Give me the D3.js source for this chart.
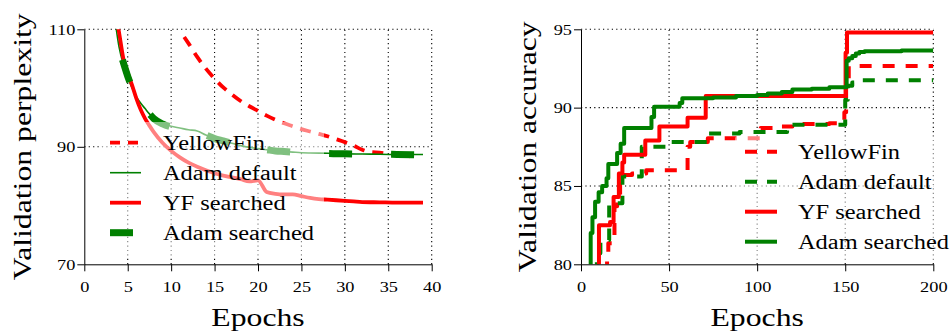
<!DOCTYPE html>
<html>
<head>
<meta charset="utf-8">
<script src="https://cdn.jsdelivr.net/npm/d3@7"></script>
<style>
  body { margin: 0; background: #fff; }
  svg { display: block; }
  text { font-family: 'Liberation Serif', 'DejaVu Serif', serif; fill: #000; }
</style>
</head>
<body>
<svg id="chart" width="950" height="333"></svg>
<script>
// ---- left panel: validation perplexity ----
const pplTicksX = [0, 5, 10, 15, 20, 25, 30, 35, 40];
const pplTicksY = [70, 90, 110];

const pplYellowFinEpochs = [11.5, 12, 13, 14, 15, 16, 17, 18, 19, 20, 21, 22, 23, 24, 25, 26, 27, 28, 29, 30, 31, 32, 33, 34, 35, 36, 37, 37.5];
const pplYellowFinValues = [108.7, 107.6, 105.3, 103.3, 101.6, 100.1, 98.9, 97.8, 96.9, 96.1, 95.3, 94.6, 94.0, 93.5, 93.0, 92.6, 92.2, 91.8, 91.3, 90.8, 90.2, 89.5, 89.1, 89.0, 88.8, 88.6, 88.3, 88.2];

const pplAdamDefaultEpochs = [3.5, 4, 4.5, 5, 5.5, 6, 6.5, 7, 7.5, 8, 9, 10, 11, 12, 13, 14, 15, 16, 17, 18, 19, 20, 21, 22, 23, 24, 25, 26, 28, 30, 33, 36, 39];
const pplAdamDefaultValues = [112, 107, 104, 101.9, 100, 98.5, 97.4, 96.5, 95.6, 94.9, 94.0, 93.5, 93.2, 92.9, 92.7, 92.0, 91.5, 91.0, 90.6, 90.2, 89.9, 89.7, 89.5, 89.3, 89.2, 89.1, 89.0, 88.95, 88.9, 88.8, 88.75, 88.7, 88.7];

const pplYFSearchedEpochs = [3.7, 4, 4.5, 5, 5.5, 6, 6.5, 7, 7.5, 8, 9, 10, 11, 12, 13, 14, 15, 16, 17, 18, 19, 20, 21, 22, 23, 24, 25, 26, 27, 28, 29, 30, 31, 32, 34, 36, 39];
const pplYFSearchedValues = [112, 109.5, 105, 102.6, 100.5, 98.2, 96.3, 94.8, 93.6, 92.5, 90.7, 89.3, 88.2, 87.3, 86.6, 86.0, 85.5, 85.1, 84.8, 84.5, 84.1, 84.3, 82.3, 82.0, 81.9, 81.9, 81.6, 81.3, 81.1, 81.0, 80.9, 80.8, 80.7, 80.6, 80.55, 80.5, 80.5];

const pplAdamSearchedEpochs = [4.4, 5, 5.5, 6, 6.5, 7, 7.5, 8, 9, 10, 11, 12, 13, 14, 15, 16, 17, 18, 19, 20, 21, 22, 23, 24, 25, 26, 28, 30, 33, 36, 38];
const pplAdamSearchedValues = [104.8, 102.0, 100.1, 98.6, 97.4, 96.4, 95.6, 94.8, 93.9, 93.4, 93.1, 92.9, 92.6, 92.0, 91.4, 91.0, 90.6, 90.2, 89.9, 89.7, 89.5, 89.3, 89.2, 89.1, 89.0, 88.9, 88.85, 88.8, 88.75, 88.7, 88.65];

// ---- right panel: validation accuracy ----
const accTicksX = [0, 50, 100, 150, 200];
const accTicksY = [80, 85, 90, 95];

const accYellowFinEpochs = [14.0, 14.8, 15.5, 19, 20.5, 22.2, 24, 29, 37, 60.5, 62, 72, 102, 109, 120, 141, 149.5, 150.5, 152, 200];
const accYellowFinValues = [79.5, 80.5, 81.35, 83.7, 84.3, 85.4, 85.7, 85.8, 86.0, 87.5, 87.8, 88.05, 88.7, 88.8, 88.95, 89.0, 89.7, 91.5, 92.65, 92.65];

const accAdamDefaultEpochs = [7.8, 9, 11, 16, 23.5, 34.5, 48, 72, 90, 117, 150, 151.5, 154, 159, 200];
const accAdamDefaultValues = [79.5, 80.7, 81.55, 83.9, 85.6, 87.5, 87.8, 88.35, 88.45, 88.9, 90.5, 91.4, 91.6, 91.75, 91.75];

const accYFSearchedEpochs = [9.6, 10.2, 16.5, 18.5, 21.5, 23.5, 24.5, 36.5, 44.5, 60.5, 70.8, 150.2, 151, 200];
const accYFSearchedValues = [79.5, 82.5, 82.7, 84.3, 85.8, 86.5, 87.0, 87.9, 88.8, 89.35, 90.75, 93.5, 94.8, 94.8];

const accAdamSearchedEpochs = [4.7, 5.5, 6.5, 8, 10, 12, 14.5, 15.5, 20.5, 22.5, 24.5, 40, 41.5, 56, 57.5, 75, 88, 100, 106, 114, 120, 131, 141, 150.8, 152, 154, 156, 158, 161, 182, 200];
const accAdamSearchedValues = [79.5, 82.0, 83.0, 84.0, 84.6, 85.0, 85.5, 86.4, 87.1, 87.7, 88.7, 89.4, 90.05, 90.3, 90.6, 90.65, 90.75, 90.8, 90.9, 91.0, 91.15, 91.2, 91.3, 93.0, 93.15, 93.3, 93.45, 93.55, 93.6, 93.65, 93.65];

const legendLabels = ['YellowFin', 'Adam default', 'YF searched', 'Adam searched'];

// the original face is a wide schoolbook serif; stretch Liberation Serif to its width
const widen = 1.22;

const svg = d3.select('#chart');

function zip(xs, ys){
  return xs.map((x, i) => [x, ys[i]]);
}

function stretch(sel){
  sel.each(function(){
    const w = this.getComputedTextLength();
    d3.select(this)
      .attr('textLength', w * widen)
      .attr('lengthAdjust', 'spacingAndGlyphs');
  });
}

function drawPanel(opt){
  const g = svg.append('g');

  const x = d3.scaleLinear().domain(opt.xDomain).range(opt.xRange);
  const y = d3.scaleLinear().domain(opt.yDomain).range(opt.yRange);

  g.append('defs').append('clipPath')
    .attr('id', opt.id + '-clip')
    .append('rect')
    .attr('x', opt.xRange[0])
    .attr('y', opt.yRange[1])
    .attr('width', opt.xRange[1] - opt.xRange[0])
    .attr('height', opt.yRange[0] - opt.yRange[1]);

  // dotted grid
  const grid = g.append('g')
    .style('stroke', '#000')
    .style('stroke-width', 1.1)
    .style('stroke-dasharray', '1.2,3.2');

  grid.selectAll('.vgrid')
    .data(opt.xTicks.slice(1))
    .join('line')
    .attr('x1', d => x(d)).attr('x2', d => x(d))
    .attr('y1', opt.yRange[0]).attr('y2', opt.yRange[1]);

  grid.selectAll('.hgrid')
    .data(opt.yTicks.slice(1))
    .join('line')
    .attr('x1', opt.xRange[0]).attr('x2', opt.xRange[1])
    .attr('y1', d => y(d)).attr('y2', d => y(d));

  // curves
  const lines = g.append('g').attr('clip-path', 'url(#' + opt.id + '-clip)');

  opt.series.forEach(s => {
    const line = d3.line()
      .x(d => x(d[0]))
      .y(d => y(d[1]))
      .curve(s.curve);
    lines.append('path')
      .datum(zip(s.epochs, s.values))
      .attr('d', line)
      .style('fill', 'none')
      .style('stroke', s.color)
      .style('stroke-width', s.width)
      .style('stroke-dasharray', s.dash || null)
      .style('stroke-linejoin', 'round');
  });

  // legend, half transparent box over the curves
  const lg = opt.legend;
  g.append('rect')
    .attr('x', lg.box[0])
    .attr('y', lg.box[1])
    .attr('width', lg.box[2])
    .attr('height', lg.box[3])
    .attr('rx', 3)
    .style('fill', '#fff')
    .style('fill-opacity', 0.5);

  opt.series.forEach((s, i) => {
    const ly = lg.top + i * lg.step;
    g.append('line')
      .attr('x1', lg.x).attr('x2', lg.x + lg.handle)
      .attr('y1', ly).attr('y2', ly)
      .style('stroke', s.color)
      .style('stroke-width', s.width)
      .style('stroke-dasharray', s.legendDash || null);
    g.append('text')
      .attr('x', lg.x + 53)
      .attr('y', ly + 7)
      .style('font-size', '20px')
      .text(legendLabels[i])
      .call(stretch);
  });

  // axes
  const xAxis = g.append('g')
    .attr('transform', 'translate(0,' + opt.yRange[0] + ')')
    .call(d3.axisBottom(x).tickValues(opt.xTicks).tickSize(7).tickSizeOuter(0).tickPadding(10));

  const yAxis = g.append('g')
    .attr('transform', 'translate(' + opt.xRange[0] + ',0)')
    .call(d3.axisLeft(y).tickValues(opt.yTicks).tickSize(7).tickSizeOuter(0).tickPadding(2));

  [xAxis, yAxis].forEach(a => {
    a.selectAll('text')
      .style('font-size', '15px')
      .style('font-family', "'Liberation Serif', serif")
      .call(stretch);
    a.select('.domain').style('stroke', '#000').style('stroke-width', 1);
    a.selectAll('.tick line').style('stroke', '#000').style('stroke-width', 1);
  });

  g.append('text')
    .attr('x', (opt.xRange[0] + opt.xRange[1]) / 2)
    .attr('y', 326)
    .attr('text-anchor', 'middle')
    .style('font-size', '26px')
    .text('Epochs')
    .call(stretch);

  g.append('text')
    .attr('transform', 'translate(' + opt.yLabelX + ',' + (opt.yRange[0] + opt.yRange[1]) / 2 + ') rotate(-90)')
    .attr('text-anchor', 'middle')
    .style('font-size', '26px')
    .text(opt.yLabel)
    .call(stretch);
}

drawPanel({
  id: 'ppl',
  xDomain: [0, 40],
  yDomain: [70, 110],
  xRange: [84.3, 431.7],
  yRange: [264.3, 29.3],
  xTicks: pplTicksX,
  yTicks: pplTicksY,
  yLabel: 'Validation perplexity',
  yLabelX: 31,
  series: [
    {epochs: pplYellowFinEpochs, values: pplYellowFinValues, color: '#ff0000', width: 3.8, dash: '11,8', legendDash: '10,8', curve: d3.curveMonotoneX},
    {epochs: pplAdamDefaultEpochs, values: pplAdamDefaultValues, color: '#008000', width: 1.6, curve: d3.curveMonotoneX},
    {epochs: pplYFSearchedEpochs, values: pplYFSearchedValues, color: '#ff0000', width: 3.8, curve: d3.curveMonotoneX},
    {epochs: pplAdamSearchedEpochs, values: pplAdamSearchedValues, color: '#008000', width: 7, dash: '23,39', legendDash: '23,39', curve: d3.curveMonotoneX}
  ],
  legend: {box: [100, 122, 224, 136], x: 110, handle: 31, top: 142.7, step: 30}
});

drawPanel({
  id: 'acc',
  xDomain: [0, 200],
  yDomain: [80, 95],
  xRange: [581, 933.3],
  yRange: [264.3, 29.3],
  xTicks: accTicksX,
  yTicks: accTicksY,
  yLabel: 'Validation accuracy',
  yLabelX: 536,
  series: [
    {epochs: accYellowFinEpochs, values: accYellowFinValues, color: '#ff0000', width: 4, dash: '12,11', legendDash: '12,10', curve: d3.curveStepAfter},
    {epochs: accAdamDefaultEpochs, values: accAdamDefaultValues, color: '#008000', width: 4, dash: '12,11', legendDash: '12,10', curve: d3.curveStepAfter},
    {epochs: accYFSearchedEpochs, values: accYFSearchedValues, color: '#ff0000', width: 4, curve: d3.curveStepAfter},
    {epochs: accAdamSearchedEpochs, values: accAdamSearchedValues, color: '#008000', width: 4, curve: d3.curveStepAfter}
  ],
  legend: {box: [735, 136, 215, 126], x: 745, handle: 32, top: 151.7, step: 30}
});
</script>
</body>
</html>
